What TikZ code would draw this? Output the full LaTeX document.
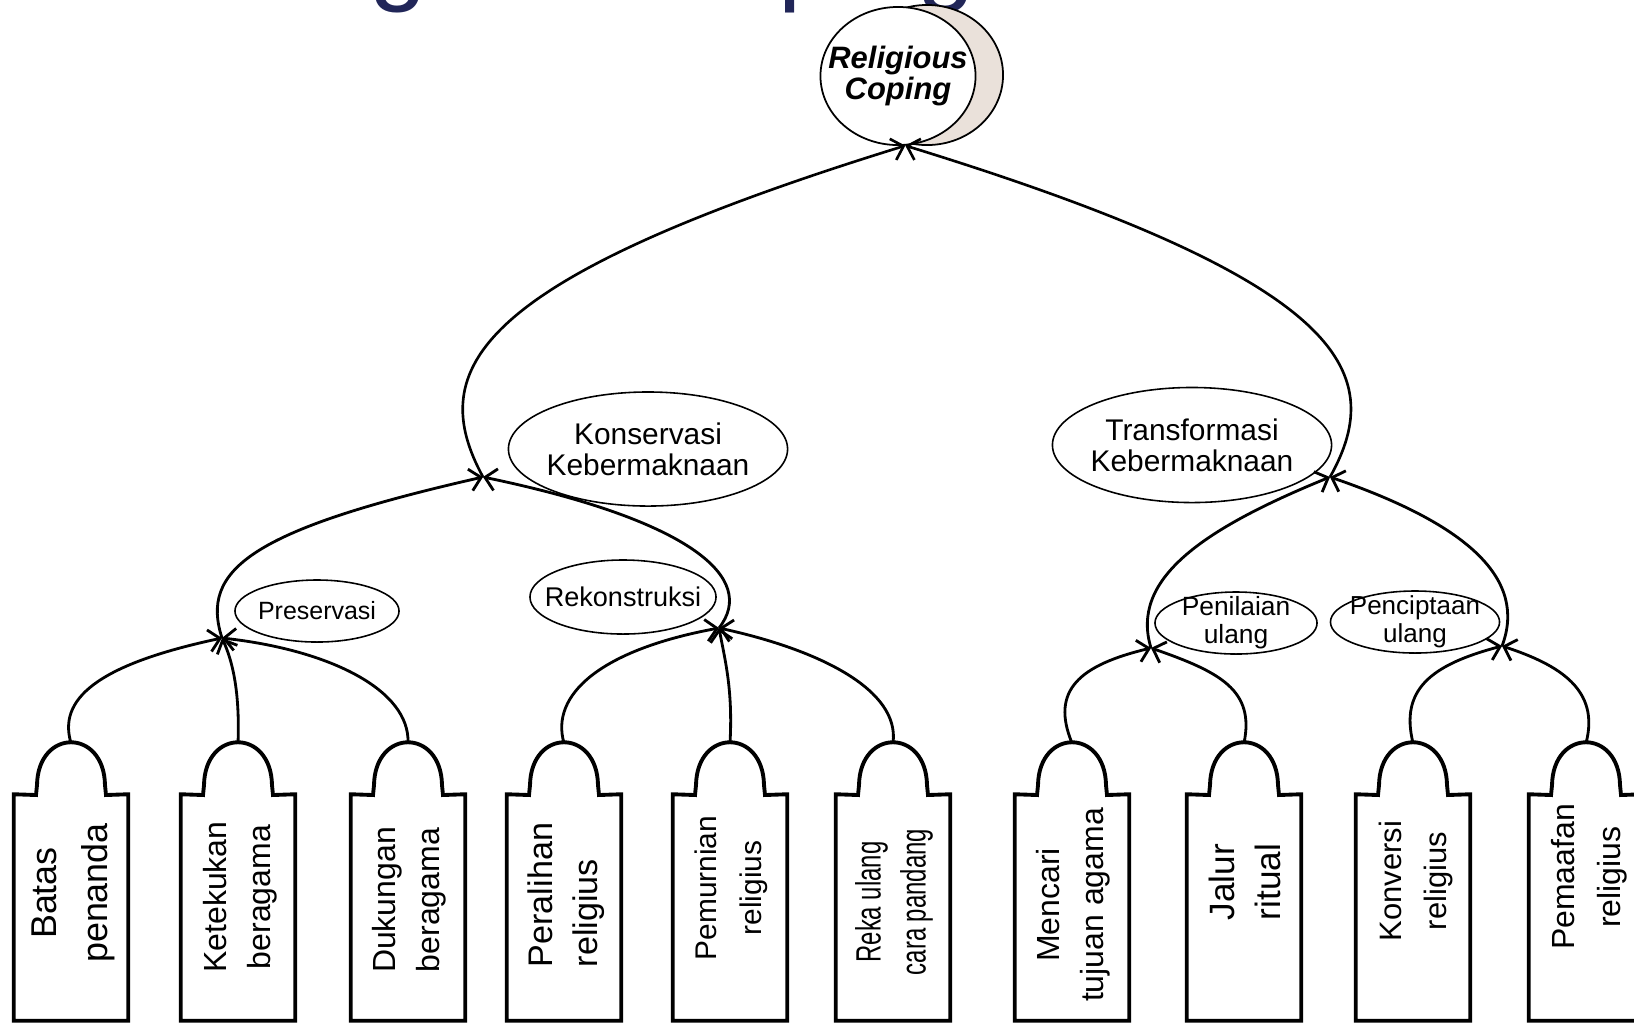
\documentclass[tikz,border=0pt]{standalone}
\usepackage{fontspec}
\setmainfont{Liberation Sans}
\newfontfamily\sempit[FakeStretch=0.68]{Liberation Sans}
\usetikzlibrary{positioning, arrows.meta, shapes.geometric}
\definecolor{judulbiru}{RGB}{33,38,88}
\definecolor{bayang}{RGB}{234,225,218}

\tikzset{
  kotak/.style={rectangle, minimum width=1.13cm, minimum height=2.25cm, inner sep=0pt},
  garistag/.style={line width=1.1pt, fill=white},
  tulisan/.style={rotate=90, align=center, inner sep=0pt, font=\fontsize{9.1}{12.5}\selectfont},
  elips/.style={ellipse, draw, line width=0.45pt, inner xsep=-0.15cm, inner ysep=-0.1cm, align=center},
  panah/.style={->, line width=0.8pt},
  panahbesar/.style={->, line width=0.75pt}
}

\begin{document}
\begin{tikzpicture}[x=0.01cm, y=-0.01cm, >={Straight Barb[length=1.1mm, width=2.2mm]}]
\useasboundingbox (0,0) rectangle (1634,1023);

% Judul (terpotong di tepi atas)
\begin{scope}
\clip (0,0) rectangle (1634,1023);
\node[anchor=base west, inner sep=0pt, text=judulbiru, font=\fontsize{29.5}{30}\selectfont] (judul) at (190,-9) {Religious Coping};
\end{scope}

% Religious Coping dengan bayangan
\draw[line width=0.5pt, fill=bayang] (927,75) ellipse [x radius=0.76cm, y radius=0.7cm];
\node[ellipse, draw, fill=white, line width=0.5pt, minimum width=1.55cm, minimum height=1.38cm, inner sep=0pt] (rc) at (898,76) {};
\node[align=center, inner sep=0pt, font=\fontsize{8.8}{9}\selectfont\bfseries\itshape] (rcteks) at (rc) {Religious\\Coping};

% Elips kategori
\node[elips, minimum width=2.79cm, minimum height=1.14cm, font=\fontsize{8.5}{8.8}\selectfont] (konservasi) at (648,449) {Konservasi\\Kebermaknaan};
\node[elips, minimum width=2.79cm, minimum height=1.15cm, font=\fontsize{8.5}{8.8}\selectfont] (transformasi) at (1192,445) {Transformasi\\Kebermaknaan};
\node[elips, minimum width=1.64cm, minimum height=0.62cm, font=\fontsize{7.1}{7.5}\selectfont] (preservasi) at (317,611) {Preservasi};
\node[elips, minimum width=1.86cm, minimum height=0.74cm, font=\fontsize{7.7}{8}\selectfont] (rekonstruksi) at (623,597) {Rekonstruksi};
\node[elips, minimum width=1.62cm, minimum height=0.62cm, font=\fontsize{7.5}{8}\selectfont] (penilaian) at (1236,623) {Penilaian\\ulang};
\node[elips, minimum width=1.69cm, minimum height=0.62cm, font=\fontsize{7.4}{8}\selectfont] (penciptaan) at (1415,622) {Penciptaan\\ulang};

% Titik pertemuan panah
\coordinate (pP) at (222,638);
\coordinate (pR) at (719,628);
\coordinate (pK) at (483,477);
\coordinate (pT) at (1330,477);
\coordinate (pN) at (1151,648);
\coordinate (pC) at (1502,646);

% Kotak-kotak aspek
\foreach \i/\cx in {1/71, 2/238, 3/408, 4/564, 5/730, 6/893, 7/1072, 8/1244, 9/1413, 10/1586} {
  \node[kotak] (t\i) at (\cx,907.5) {};
  \draw[garistag] (t\i.south west) -- (t\i.north west) -- (\cx-35,795) -- (\cx-34,785)
    .. controls (\cx-33,728) and (\cx+33,728) .. (\cx+34,785) -- (\cx+35,795)
    -- (t\i.north east) -- (t\i.south east) -- cycle;
  \coordinate (a\i) at (\cx,743);
}

% Tulisan dalam kotak
\node[tulisan, font=\fontsize{10.2}{14.5}\selectfont] (l1) at (73,893) {Batas\\penanda};
\node[tulisan] (l2) at (240,897) {Ketekukan\\beragama};
\node[tulisan] (l3) at (409,900) {Dukungan\\beragama};
\node[tulisan, align=left, font=\fontsize{9.7}{12.8}\selectfont] (l4) at (566,895) {Peralihan\\religius};
\node[tulisan, font=\fontsize{8.5}{12.8}\selectfont] (l5) at (731,888) {Pemurnian\\religius};
\node[tulisan, font=\sempit\fontsize{10}{12.8}\selectfont] (l6) at (894,902) {Reka ulang\\cara pandang};
\node[tulisan] (l7) at (1073,905) {Mencari\\tujuan agama};
\node[tulisan, align=left, font=\fontsize{10}{13}\selectfont] (l8) at (1245,882) {Jalur\\ritual};
\node[tulisan, font=\fontsize{8.8}{13}\selectfont] (l9) at (1416,881) {Konversi\\religius};
\node[tulisan, font=\fontsize{9.1}{13}\selectfont] (l10) at (1589,877) {Pemaafan\\religius};

% Panah dari kotak
\draw[panah] (a1) .. controls (58,700) and (95,665) .. (pP);
\draw[panah] (a2) .. controls (240,690) and (232,660) .. (pP);
\draw[panah] (a3) .. controls (410,690) and (330,650) .. (pP);
\draw[panah] (a4) .. controls (550,695) and (600,650) .. (pR);
\draw[panah] (a5) .. controls (733,690) and (725,660) .. (pR);
\draw[panah] (a6) .. controls (900,690) and (820,650) .. (pR);
\draw[panah] (a7) .. controls (1050,690) and (1080,665) .. (pN);
\draw[panah] (a8) .. controls (1255,690) and (1220,672) .. (pN);
\draw[panah] (a9) .. controls (1400,690) and (1430,665) .. (pC);
\draw[panah] (a10) .. controls (1600,690) and (1560,665) .. (pC);

% Panah tingkat kedua
\draw[panah] (pP) .. controls (200,570) and (250,530) .. (pK);
\draw[panah] (pR) .. controls (758,578) and (690,520) .. (pK);
\draw[panah] (pN) .. controls (1130,580) and (1200,530) .. (pT);
\draw[panah] (pC) .. controls (1527,580) and (1470,525) .. (pT);

% Panah ke Religious Coping
\draw[panahbesar] (pK) .. controls (425,370) and (470,280) .. (rc.-84);
\draw[panahbesar] (pT) .. controls (1390,370) and (1342,280) .. (rc.-84);

\end{tikzpicture}
\end{document}
